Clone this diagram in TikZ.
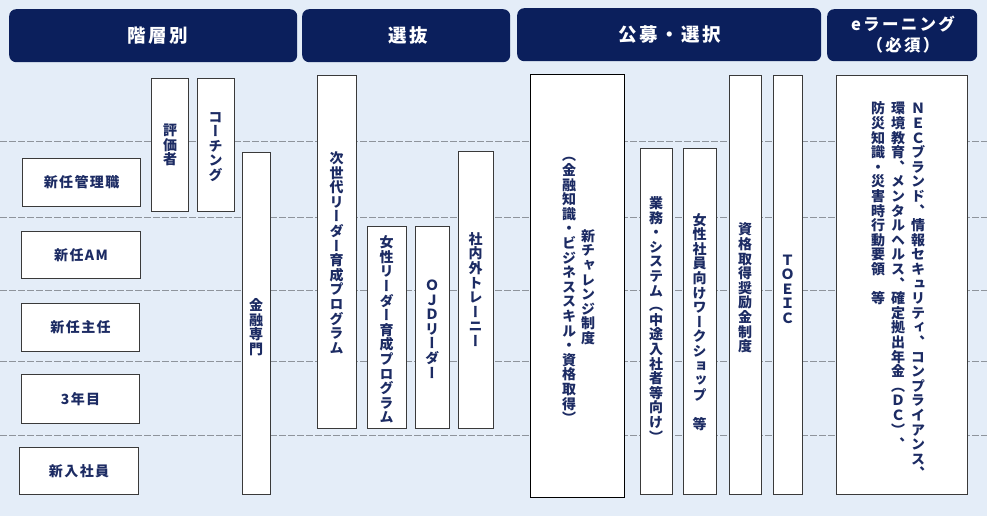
\documentclass[tikz,border=0pt]{standalone}
\usepackage{fontspec}
\newfontfamily\jph{Noto Sans CJK JP}[LetterSpace=10]
\newfontfamily\jphd{Noto Sans CJK JP}[LetterSpace=14]
\newfontfamily\jpv{Noto Sans CJK JP}[RawFeature=+vert]
\definecolor{navy}{HTML}{0B1F5C}
\definecolor{txt}{HTML}{1C2B63}
\definecolor{bgc}{HTML}{E4EDF8}
\definecolor{bord}{HTML}{3A3A3A}
\definecolor{dashc}{HTML}{8E949C}
\newlength\vtp \setlength\vtp{14.6pt}
\makeatletter
\def\vt@end{\vt@end}
\newcommand\vt[1]{\vbox{\offinterlineskip\vt@loop#1\vt@end}}
\def\vt@loop#1{\ifx#1\vt@end\else\vt@box{#1}\expandafter\vt@loop\fi}
\def\vt@box#1{\hbox to 1.05em{\hss\vbox to\vtp{\vss\hbox{\rule[-0.12em]{0pt}{1em}#1}\vss}\hss}}
\makeatother
\tikzset{
  hdr/.style={fill=navy, rounded corners=7pt, draw=none, anchor=north west, inner sep=0pt},
  hdrtxt/.style={text=white, font=\jphd\bfseries\fontsize{18.5}{22}\selectfont, inner sep=0pt},
  lvl/.style={draw=bord, line width=1.1pt, fill=white, anchor=north west, inner sep=0pt,
              text=txt, font=\jph\bfseries\fontsize{14}{16}\selectfont},
  vbx/.style={draw=bord, line width=1.1pt, fill=white, anchor=north west, inner sep=0pt},
  vtxt/.style={text=txt, font=\jpv\bfseries\fontsize{14}{16}\selectfont, inner sep=0pt},
  rowline/.style={draw=dashc, line width=0.9pt, dash pattern=on 7pt off 2pt}
}
\begin{document}
\begin{tikzpicture}[x=1pt,y=-1pt]
\useasboundingbox (0,0) rectangle (987,516);
\fill[bgc] (0,0) rectangle (987,516);
% row separators
\foreach \yy [count=\i] in {141,217,290,361,435}{
  \coordinate (ls\i) at (0,\yy);
  \coordinate (le\i) at (987,\yy);
  \draw[rowline] (ls\i) -- (le\i);
}
% headers
\node[hdr, minimum width=288, minimum height=53] (h1) at (9,9) {};
\node[hdr, minimum width=208, minimum height=53] (h2) at (302,9) {};
\node[hdr, minimum width=304, minimum height=53] (h3) at (517,8) {};
\node[hdr, minimum width=150, minimum height=52] (h4) at (827,9) {};
\node[hdrtxt] (h1t) at (158,35.5) {階層別};
\node[hdrtxt] (h2t) at (408,35.5) {選抜};
\node[hdrtxt] (h3t) at (670,35) {公募・選択};
\node[hdrtxt, font=\jphd\bfseries\fontsize{16.5}{21}\selectfont, align=center] (h4t) at (903,35) {eラーニング\\（必須）};
% level boxes
\node[lvl, minimum width=118, minimum height=48] (l1) at (22,158) {新任管理職};
\node[lvl, minimum width=119, minimum height=47] (l2) at (21,231) {新任AM};
\node[lvl, minimum width=118, minimum height=48] (l3) at (21,303) {新任主任};
\node[lvl, minimum width=118, minimum height=49] (l4) at (21,374) {3年目};
\node[lvl, minimum width=119, minimum height=47] (l5) at (19,447) {新入社員};
% vertical boxes
\node[vbx, minimum width=37, minimum height=133] (b1) at (151,78) {};
\node[vbx, minimum width=37, minimum height=133] (b2) at (197,78) {};
\node[vbx, minimum width=28, minimum height=342] (b3) at (242,152) {};
\node[vbx, minimum width=39, minimum height=353] (b4) at (317,75) {};
\node[vbx, minimum width=39, minimum height=202] (b5) at (367,226) {};
\node[vbx, minimum width=34, minimum height=202] (b6) at (415,226) {};
\node[vbx, minimum width=35, minimum height=277] (b7) at (458,151) {};
\node[vbx, draw=black, line width=1pt, minimum width=94, minimum height=423] (b8) at (530,74) {};
\node[vbx, minimum width=32, minimum height=346] (b9) at (640,148) {};
\node[vbx, minimum width=33, minimum height=346] (b10) at (683,148) {};
\node[vbx, minimum width=32, minimum height=419] (b11) at (729,75) {};
\node[vbx, minimum width=29, minimum height=419] (b12) at (773,75) {};
\node[vbx, minimum width=131, minimum height=419] (b13) at (836,75) {};
% vertical texts
\node[vtxt] (t1) at (170,145) {\vt{評価者}};
\node[vtxt] (t2) at (215.5,146) {\vt{コーチング}};
\node[vtxt] (t3) at (256,327) {\vt{金融専門}};
\node[vtxt] (t4) at (336.5,253) {\vt{次世代リーダー育成プログラム}};
\node[vtxt] (t5) at (386.5,330) {\vt{女性リーダー育成プログラム}};
\node[vtxt] (t6) at (432,329) {\vt{ＯＪＤリーダー}};
\node[vtxt] (t7) at (475.5,290) {\vt{社内外トレーニー}};
\node[vtxt] (t8a) at (588,287) {\vt{新チャレンジ制度}};
\node[vtxt] (t8b) at (569,287) {\vt{（金融知識・ビジネススキル・資格取得）}};
\node[vtxt] (t9) at (656,320) {\vt{業務・システム（中途入社者等向け）}};
\node[vtxt] (t10) at (699.5,322) {\vt{女性社員向けワークショップ　等}};
\node[vtxt] (t11) at (745,288) {\vt{資格取得奨励金制度}};
\node[vtxt] (t12) at (787.5,289) {\vt{ＴＯＥＩＣ}};
\node[vtxt, anchor=north] (t13a) at (918,101) {\vt{ＮＥＣブランド、情報セキュリティ、コンプライアンス、}};
\node[vtxt, anchor=north] (t13b) at (898,101) {\vt{環境教育、メンタルヘルス、確定拠出年金（ＤＣ）、}};
\node[vtxt, anchor=north] (t13c) at (878,101) {\vt{防災知識・災害時行動要領　等}};
\end{tikzpicture}
\end{document}
